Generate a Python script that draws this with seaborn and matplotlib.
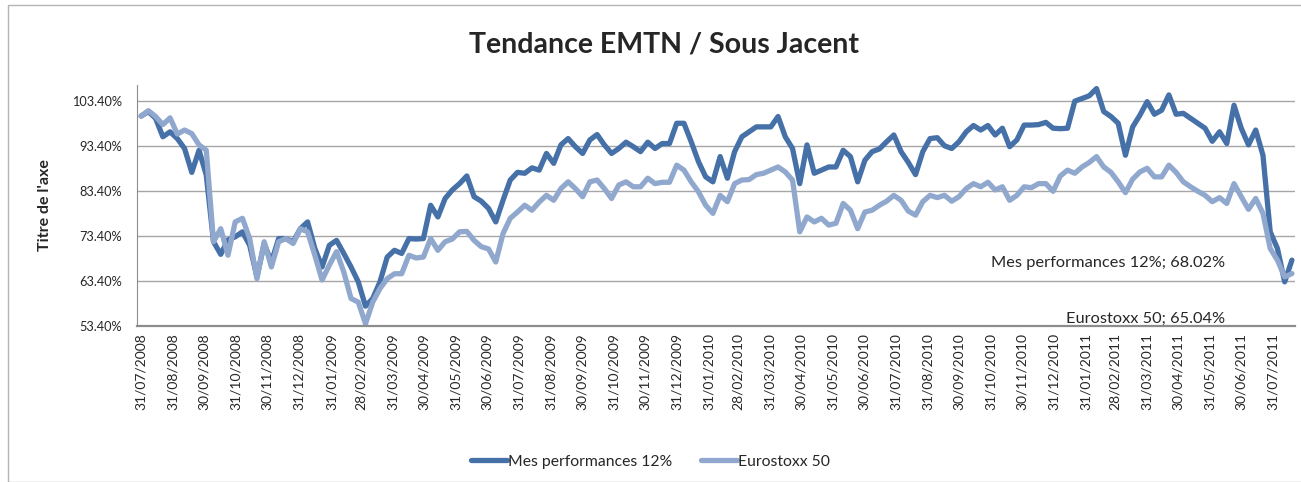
import pandas as pd
import seaborn as sns
import matplotlib.pyplot as plt
import matplotlib.dates as mdates
from matplotlib.patches import Rectangle
from matplotlib.lines import Line2D

# weekly values, in %
perf = [100.0, 101.0, 99.5, 95.4, 96.5, 95.0, 92.8, 87.5, 92.4, 86.9,
        72.1, 69.3, 72.5, 73.2, 74.3, 71.3, 64.3, 71.7, 67.6, 72.8,
        72.8, 72.1, 75.0, 76.5, 70.6, 66.5, 71.3, 72.4, 69.5, 66.5,
        63.2, 57.8, 59.5, 63.2, 68.7, 70.2, 69.5, 72.8, 72.7, 72.8,
        80.2, 77.6, 81.7, 83.6, 85.0, 86.7, 82.1, 81.1, 79.5, 76.5,
        81.3, 85.8, 87.5, 87.3, 88.5, 88.0, 91.7, 89.5, 93.6, 95.0,
        93.2, 91.7, 94.7, 95.9, 93.6, 91.7, 92.8, 94.2, 93.2, 92.1,
        94.2, 92.8, 93.9, 93.9, 98.4, 98.4, 94.3, 89.9, 86.5, 85.4,
        91.0, 86.2, 92.1, 95.4, 96.5, 97.6, 97.6, 97.6, 99.9, 95.4,
        92.8, 85.0, 93.6, 87.3, 88.0, 88.7, 88.7, 92.4, 91.0, 85.4,
        90.2, 92.1, 92.7, 94.3, 95.8, 92.1, 89.7, 87.0, 92.1, 95.0,
        95.2, 93.4, 92.8, 94.3, 96.5, 97.9, 96.9, 97.9, 95.8, 97.3,
        93.2, 94.7, 98.0, 98.0, 98.1, 98.6, 97.3, 97.2, 97.3, 103.3,
        103.9, 104.5, 106.1, 101.0, 99.9, 98.4, 91.3, 97.6, 100.2, 103.2,
        100.4, 101.3, 104.7, 100.4, 100.6, 99.5, 98.4, 97.3, 94.4, 96.5,
        93.9, 102.4, 97.3, 93.6, 96.9, 91.3, 74.3, 70.6, 63.2, 68.02]

stoxx = [100.0, 101.2, 99.9, 98.1, 99.6, 96.0, 96.9, 96.1, 93.6, 92.4,
         72.1, 75.0, 69.1, 76.5, 77.3, 72.8, 63.9, 72.1, 66.5, 72.1,
         72.8, 71.7, 75.0, 74.3, 69.1, 63.6, 66.9, 69.9, 65.4, 59.5,
         58.7, 53.9, 58.7, 61.7, 63.9, 65.0, 65.0, 69.1, 68.5, 68.7,
         72.8, 70.2, 72.1, 72.7, 74.3, 74.4, 72.4, 71.0, 70.5, 67.6,
         73.9, 77.3, 78.7, 80.2, 79.1, 80.9, 82.4, 81.3, 83.9, 85.4,
         83.9, 82.1, 85.4, 85.8, 83.9, 81.7, 84.7, 85.4, 84.3, 84.3,
         86.2, 85.0, 85.3, 85.3, 89.1, 88.0, 85.4, 83.2, 80.2, 78.4,
         82.4, 81.0, 85.0, 85.8, 85.9, 87.0, 87.3, 88.0, 88.7, 87.6,
         85.8, 74.3, 77.6, 76.5, 77.3, 75.8, 76.2, 80.6, 79.1, 75.0,
         78.7, 79.1, 80.2, 81.1, 82.4, 81.3, 78.9, 78.0, 81.0, 82.4,
         81.9, 82.4, 81.1, 82.1, 83.9, 85.0, 84.3, 85.3, 83.6, 84.3,
         81.3, 82.4, 84.3, 84.1, 85.0, 85.0, 83.3, 86.7, 88.0, 87.3,
         88.7, 89.7, 91.0, 88.7, 87.5, 85.4, 83.0, 86.0, 87.6, 88.4,
         86.5, 86.5, 89.1, 87.5, 85.4, 84.3, 83.3, 82.4, 81.0, 81.9,
         80.6, 85.0, 82.1, 79.3, 81.7, 78.4, 70.6, 68.0, 64.3, 65.04]

names = ["Mes performances 12%", "Eurostoxx 50"]
colors = ["#4570A8", "#91A8CE"]
yticks = [53.4, 63.4, 73.4, 83.4, 93.4, 103.4]

dates = pd.date_range("2008-07-31", periods=len(perf), freq="7D")
df = pd.DataFrame({"date": dates, names[0]: perf, names[1]: stoxx})
long = df.melt(id_vars="date", var_name="serie", value_name="val")

sns.set_style("white")
plt.rcParams["font.family"] = ["Lato", "DejaVu Sans"]

fig = plt.figure(figsize=(13.01, 4.82), dpi=100)
ax = fig.add_axes([0.1053, 0.3237, 0.8901, 0.5000])

sns.lineplot(data=long, x="date", y="val", hue="serie", palette=colors,
             linewidth=3.8, legend=False, ax=ax, solid_joinstyle="round",
             solid_capstyle="round")

ax.set_ylim(53.4, 106.9)
ax.set_yticks(yticks)
ax.set_yticklabels([f"{v:.2f}%" for v in yticks], fontsize=9.2)
ax.yaxis.grid(True, color="#a6a6a6", linewidth=1)
ax.set_axisbelow(True)
ax.set_ylabel("Titre de l'axe", fontsize=11.5, fontweight="bold", labelpad=14)

start = dates[0]
ax.set_xlim(start - pd.Timedelta(days=4), start + pd.Timedelta(days=1116))
months = pd.date_range("2008-07-31", "2011-07-31", freq="ME")
ax.set_xticks(months)
ax.xaxis.set_major_formatter(mdates.DateFormatter("%d/%m/%Y"))
plt.setp(ax.get_xticklabels(), rotation=90, fontsize=10)
ax.set_xlabel("")
ax.tick_params(axis="y", length=0, pad=11)
ax.tick_params(axis="x", length=0, pad=5)

for s in ["top", "right"]:
    ax.spines[s].set_visible(False)
ax.spines["left"].set_color("#8c8c8c")
ax.spines["bottom"].set_color("#8c8c8c")
ax.spines["bottom"].set_linewidth(1.6)

# data labels on the last point
ax.annotate(f"{names[0]}; {perf[-1]:.2f}%", xy=(dates[-1], perf[-1]),
            xytext=(-67, -3), textcoords="offset pixels", ha="right",
            va="center", fontsize=11.8)
ax.annotate(f"{names[1]}; {stoxx[-1]:.2f}%", xy=(dates[-1], stoxx[-1]),
            xytext=(-67, -45), textcoords="offset pixels", ha="right",
            va="center", fontsize=11.8)

fig.suptitle("Tendance EMTN / Sous Jacent", x=0.51, y=0.935, fontsize=20.5,
             fontweight="bold")

handles = [Line2D([], [], color=c, linewidth=3.8, solid_capstyle="round")
           for c in colors]
fig.legend(handles, names, loc="center", bbox_to_anchor=(0.5, 0.042),
           ncol=2, frameon=False, fontsize=11.3, handlelength=2.3,
           handletextpad=0.1, columnspacing=1.8)

fig.patches.append(Rectangle((0.006, 0.0), 1.0, 0.99, transform=fig.transFigure,
                             fill=False, edgecolor="#b4b4b4", linewidth=1))

fig.savefig("out.png", dpi=100)
